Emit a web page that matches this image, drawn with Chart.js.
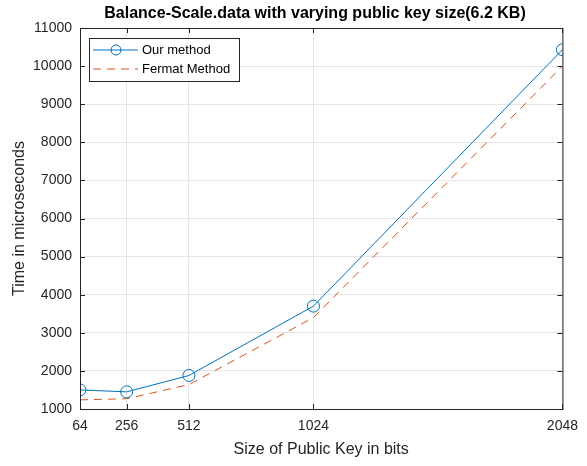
<!DOCTYPE html>
<html>
<head>
<meta charset="utf-8">
<script src="https://cdn.jsdelivr.net/npm/chart.js@4/dist/chart.umd.min.js"></script>
<style>
  html, body { margin: 0; padding: 0; background: #fff; }
  #wrap { width: 587px; height: 466px; }
</style>
</head>
<body>
<div id="wrap"><canvas id="grafico" width="587" height="466"></canvas></div>
<script>
// datos
const keySizes = [64, 256, 512, 1024, 2048];
const ourMethod = [1500, 1450, 1880, 3700, 10430];
const fermatMethod = [1240, 1270, 1640, 3400, 10000];
const xTicks = [64, 256, 512, 1024, 2048];
const yTicks = [1000, 2000, 3000, 4000, 5000, 6000, 7000, 8000, 9000, 10000, 11000];
const titulo = "Balance-Scale.data with varying public key size(6.2 KB)";

const fuente = "'Liberation Sans', Arial, sans-serif";
const azul = "#0072BD";
const naranja = "#D95319";
const ejes = "#262626";

// Caja, marcas hacia adentro, titulo y leyenda interior (estilo MATLAB)
const cajaPlugin = {
  id: "caja",
  afterDraw(chart) {
    const { ctx, chartArea: a } = chart;
    const sx = chart.scales.x, sy = chart.scales.y;
    ctx.save();
    ctx.strokeStyle = ejes;
    ctx.lineWidth = 1;
    ctx.strokeRect(a.left + 0.5, a.top + 0.5, a.right - a.left, a.bottom - a.top);

    // marcas
    ctx.beginPath();
    xTicks.forEach(v => {
      const px = Math.round(sx.getPixelForValue(v)) + 0.5;
      ctx.moveTo(px, a.bottom); ctx.lineTo(px, a.bottom - 5);
      ctx.moveTo(px, a.top); ctx.lineTo(px, a.top + 5);
    });
    yTicks.forEach(v => {
      const py = Math.round(sy.getPixelForValue(v)) + 0.5;
      ctx.moveTo(a.left, py); ctx.lineTo(a.left + 5, py);
      ctx.moveTo(a.right, py); ctx.lineTo(a.right - 5, py);
    });
    ctx.stroke();

    // titulo
    ctx.fillStyle = "#000";
    ctx.font = "bold 16px " + fuente;
    ctx.textAlign = "center";
    ctx.textBaseline = "middle";
    ctx.fillText(titulo, 315, 14);

    // leyenda
    const lx = a.left + 9, ly = a.top + 10, lw = 150, lh = 43;
    ctx.fillStyle = "#fff";
    ctx.fillRect(lx, ly, lw, lh);
    ctx.strokeStyle = ejes;
    ctx.strokeRect(lx + 0.5, ly + 0.5, lw, lh);

    ctx.strokeStyle = azul;
    ctx.beginPath();
    ctx.moveTo(lx + 4, ly + 12);
    ctx.lineTo(lx + 49, ly + 12);
    ctx.stroke();
    ctx.beginPath();
    ctx.arc(lx + 27, ly + 12, 5, 0, Math.PI * 2);
    ctx.stroke();

    ctx.strokeStyle = naranja;
    ctx.setLineDash([8, 6]);
    ctx.beginPath();
    ctx.moveTo(lx + 4, ly + 31);
    ctx.lineTo(lx + 49, ly + 31);
    ctx.stroke();
    ctx.setLineDash([]);

    ctx.fillStyle = "#000";
    ctx.font = "13px " + fuente;
    ctx.textAlign = "left";
    ctx.fillText("Our method", lx + 53, ly + 12);
    ctx.fillText("Fermat Method", lx + 53, ly + 31);
    ctx.restore();
  }
};

new Chart(document.getElementById("grafico"), {
  type: "line",
  data: {
    datasets: [
      {
        label: "Our method",
        data: keySizes.map((x, i) => ({ x: x, y: ourMethod[i] })),
        borderColor: azul,
        borderWidth: 1,
        pointStyle: "circle",
        pointRadius: 6,
        pointBorderWidth: 1,
        pointBorderColor: azul,
        pointBackgroundColor: "rgba(0,0,0,0)",
        tension: 0
      },
      {
        label: "Fermat Method",
        data: keySizes.map((x, i) => ({ x: x, y: fermatMethod[i] })),
        borderColor: naranja,
        borderWidth: 1,
        borderDash: [8, 6],
        pointRadius: 0,
        tension: 0
      }
    ]
  },
  options: {
    responsive: false,
    animation: false,
    layout: { padding: { left: 10, right: 23, top: 28, bottom: 0 } },
    plugins: {
      legend: { display: false },
      tooltip: { enabled: false },
      title: { display: false }
    },
    scales: {
      x: {
        type: "linear",
        min: 64,
        max: 2048,
        afterBuildTicks: (s) => { s.ticks = xTicks.map(v => ({ value: v })); },
        afterFit: (s) => { s.height = 57; },
        ticks: {
          color: ejes,
          font: { family: fuente, size: 14 },
          padding: 9,
          maxRotation: 0,
          callback: (v) => String(v)
        },
        grid: { color: "#e6e6e6", drawTicks: false },
        border: { color: ejes },
        title: {
          display: true,
          text: "Size of Public Key in bits",
          color: ejes,
          font: { family: fuente, size: 16 },
          padding: { top: 4, bottom: 7 }
        }
      },
      y: {
        min: 1000,
        max: 11000,
        afterBuildTicks: (s) => { s.ticks = yTicks.map(v => ({ value: v })); },
        afterFit: (s) => { s.width = 70; },
        ticks: {
          color: ejes,
          font: { family: fuente, size: 14 },
          padding: 8,
          callback: (v) => String(v)
        },
        grid: { color: "#e6e6e6", drawTicks: false },
        border: { color: ejes },
        title: {
          display: true,
          text: "Time in microseconds",
          color: ejes,
          font: { family: fuente, size: 16 },
          padding: { top: 0, bottom: 2 }
        }
      }
    }
  },
  plugins: [cajaPlugin]
});
</script>
</body>
</html>
